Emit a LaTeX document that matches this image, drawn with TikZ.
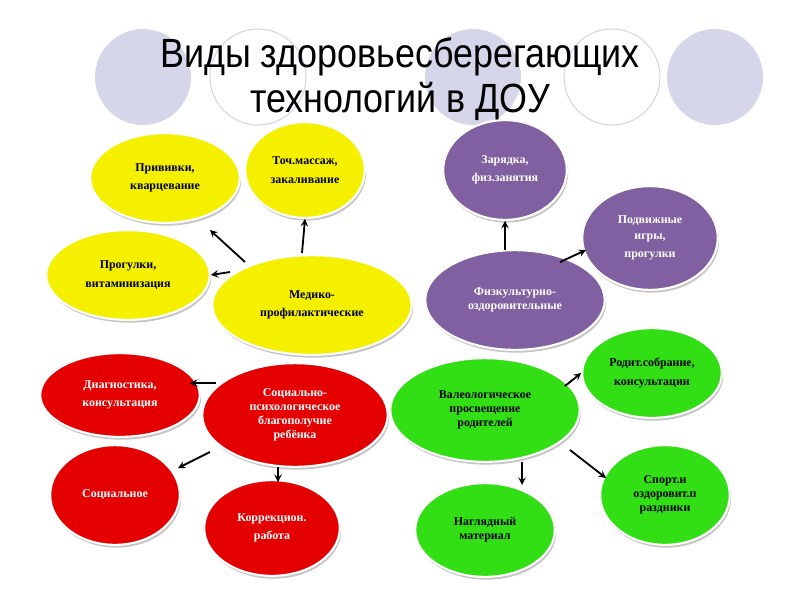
\documentclass[tikz,border=0pt]{standalone}
\usepackage{fontspec}
\setmainfont{Liberation Serif}
\newfontfamily\titlefont[FakeStretch=0.88]{Liberation Sans}
\usetikzlibrary{shapes.geometric, arrows, shadows}

\definecolor{bgcirc}{RGB}{214,214,234}
\definecolor{medyel}{RGB}{245,240,0}
\definecolor{fizpur}{RGB}{128,96,160}
\definecolor{socred}{RGB}{228,0,0}
\definecolor{valgrn}{RGB}{50,222,20}

\tikzset{
	bubble/.style={ellipse, draw=white, line width=1.5pt, inner sep=0pt, align=center,
		font=\fontsize{8.5}{13}\selectfont\bfseries, drop shadow={shadow xshift=1pt, shadow yshift=-2pt, fill=black!45}},
	sz/.style 2 args={minimum width=#1*0.709pt, minimum height=#2*0.709pt},
	yel/.style={bubble, fill=medyel},
	pur/.style={bubble, fill=fizpur, text=white},
	rd/.style={bubble, fill=socred, text=white},
	grn/.style={bubble, fill=valgrn},
	arr/.style={-stealth, line width=1.3pt}
}

\begin{document}
\begin{tikzpicture}[x=0.025cm, y=-0.025cm]
	\useasboundingbox (0,0) rectangle (800,600);

	% background circles
	\fill[bgcirc] (143,77) circle (48);
	\draw[bgcirc, line width=0.8pt] (258,77) circle (48);
	\fill[bgcirc] (473,77) circle (48);
	\draw[bgcirc, line width=0.8pt] (612,77) circle (48);
	\fill[bgcirc] (715,77) circle (48);

	\node[font=\titlefont\fontsize{29}{32}\selectfont, align=center] (title) at (400,79) {Виды здоровьесберегающих\\технологий в ДОУ};

	% yellow group
	\node[yel, sz={150}{90}] (privivki) at (165,178) {Прививки,\\кварцевание};
	\node[yel, sz={120}{96}] (massazh) at (305,170) {Точ.массаж,\\закаливание};
	\node[yel, sz={164}{90}] (progulki) at (128,275) {Прогулки,\\витаминизация};
	\node[yel, sz={200}{100}] (mediko) at (312,305) {Медико-\\профилактические};

	% purple group
	\node[pur, sz={124}{100}] (zaryadka) at (505,170) {Зарядка,\\физ.занятия};
	\node[pur, sz={136}{104}, font=\fontsize{8.5}{11}\selectfont\bfseries] (igry) at (650,238) {Подвижные\\игры,\\[2pt]прогулки};
	\node[pur, sz={180}{100}, font=\fontsize{8.5}{10}\selectfont\bfseries] (fizkult) at (515,300) {Физкультурно-\\оздоровительные};

	% red group
	\node[rd, sz={160}{84}] (diagn) at (120,395) {Диагностика,\\консультация};
	\node[rd, sz={186}{104}, font=\fontsize{8.5}{10}\selectfont\bfseries] (socpsy) at (295,415) {Социально-\\психологическое\\благополучие\\ребёнка};
	\node[rd, sz={130}{100}] (social) at (115,495) {Социальное};
	\node[rd, sz={136}{96}] (korr) at (272,528) {Коррекцион.\\работа};

	% green group
	\node[grn, sz={140}{90}] (sobranie) at (652,373) {Родит.собрание,\\консультации};
	\node[grn, sz={190}{104}, font=\fontsize{8.5}{10}\selectfont\bfseries] (valeo) at (485,410) {Валеологическое\\просвещение\\родителей};
	\node[grn, sz={130}{100}, font=\fontsize{8.5}{10}\selectfont\bfseries] (sport) at (665,495) {Спорт.и\\оздоровит.п\\раздники};
	\node[grn, sz={140}{94}, font=\fontsize{8.5}{10}\selectfont\bfseries] (naglyad) at (485,530) {Наглядный\\материал};

	% arrows
	\coordinate (m1) at (245,262);
	\coordinate (m2) at (302,253);
	\coordinate (m3) at (230,272);
	\coordinate (f1) at (505,250);
	\coordinate (f2) at (560,262);
	\coordinate (s1) at (216,383);
	\coordinate (s2) at (210,452);
	\coordinate (s3) at (278,467);
	\coordinate (v1) at (565,386);
	\coordinate (v2) at (522,462);
	\coordinate (v3) at (570,450);
	\draw[arr] (m1) -- (210,230);
	\draw[arr] (m2) -- (massazh.south);
	\draw[arr] (m3) -- (progulki.east);
	\draw[arr] (f1) -- (zaryadka.south);
	\draw[arr] (f2) -- (586,250);
	\draw[arr] (s1) -- (190,383);
	\draw[arr] (s2) -- (178,468);
	\draw[arr] (s3) -- (278,482);
	\draw[arr] (v1) -- (sobranie.west);
	\draw[arr] (v2) -- (522,485);
	\draw[arr] (v3) -- (606,478);
\end{tikzpicture}
\end{document}
